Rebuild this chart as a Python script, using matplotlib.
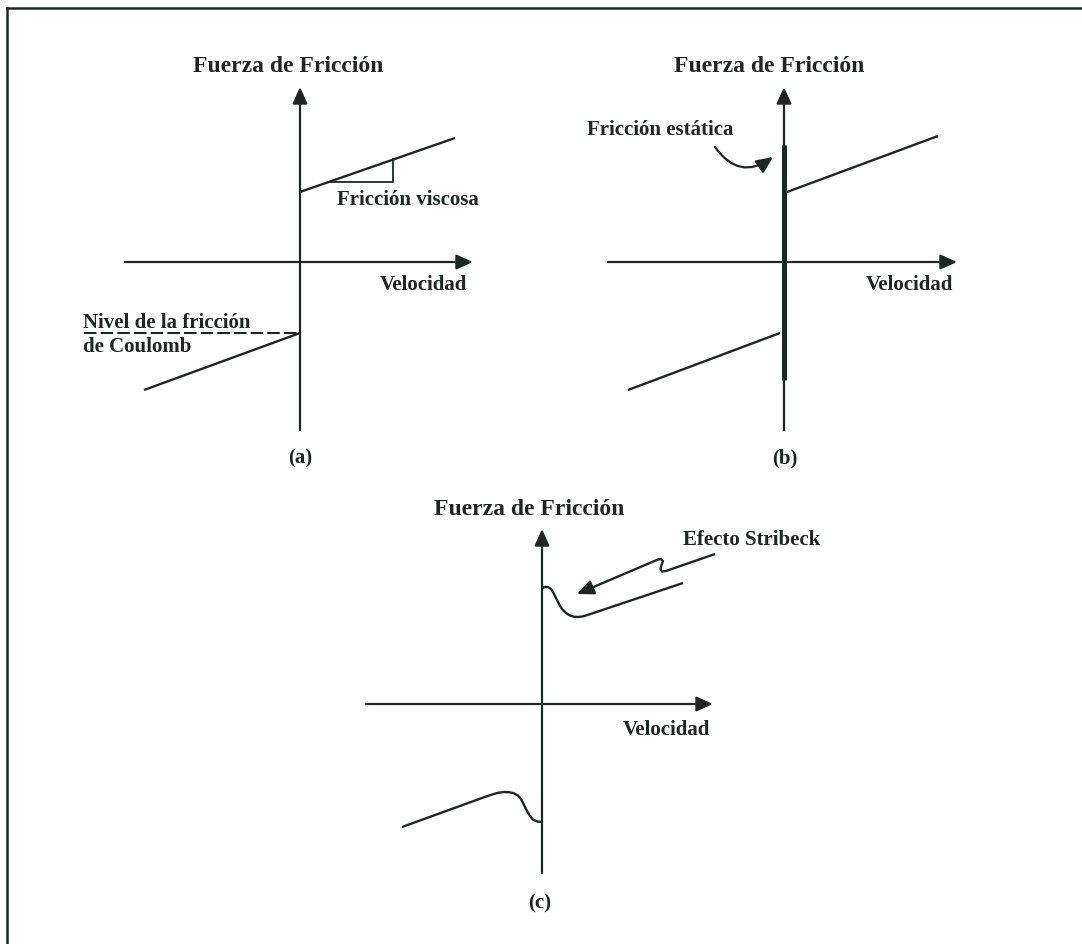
import matplotlib.pyplot as plt

plt.rcParams['font.family'] = ['Liberation Serif', 'DejaVu Serif']
plt.rcParams['font.weight'] = 'bold'

W, H = 1082, 944
INK = '#1d2622'

# labels
force_label = "Fuerza de Fricción"
speed_label = "Velocidad"
panel_tags = ["(a)", "(b)", "(c)"]
viscous_label = "Fricción viscosa"
coulomb_label = ["Nivel de la fricción", "de Coulomb"]
static_label = "Fricción estática"
stribeck_label = "Efecto Stribeck"

# (a) Coulomb + viscous friction
a_pos_v = [0, 155]
a_pos_f = [70, 124]
a_neg_v = [-156, 0]
a_neg_f = [-128, -71]
a_slope_v = [28, 93, 93]
a_slope_f = [80, 80, 103]
a_coulomb_level = -71

# (b) static + Coulomb + viscous friction
b_pos_v = [3, 154]
b_pos_f = [70, 126]
b_neg_v = [-156, -4]
b_neg_f = [-128, -71]
b_static_f = [-118, 117]

# (c) Stribeck effect
c_pos_v = [0, 3, 6, 9, 11, 13, 15, 17, 20, 24, 28, 32, 36, 41, 47, 141]
c_pos_f = [116, 117, 117, 115, 112, 108, 104, 100, 95, 91, 88.5, 87.3, 87, 87.6, 89.5, 121]
c_neg_v = [-140, -60, -50, -44, -38, -33, -28, -24, -21, -18, -15, -12, -9, -5, 0]
c_neg_f = [-123, -94, -90.5, -88.8, -88, -88.2, -89.3, -91.5, -95, -101, -107, -112, -115.5, -117.5, -118]
c_hint_v = [173, 124, 120, 118.5, 119.5, 121, 119, 116]
c_hint_f = [150, 133, 132.5, 135, 139, 143, 145, 144.5]
c_hint_tip = (35, 110)

fig = plt.figure(figsize=(W / 100, H / 100), dpi=100)

base = fig.add_axes([0, 0, 1, 1])
base.set_xlim(0, W)
base.set_ylim(H, 0)
base.axis('off')
# page frame (only left and top edges are on the sheet)
base.plot([7, 7], [H, 8], color=INK, lw=1.8)
base.plot([7, W], [8, 8], color=INK, lw=1.8)


def panel(ox, oy):
    ax = fig.add_axes([0, 0, 1, 1])
    ax.set_xlim(-ox, W - ox)
    ax.set_ylim(oy - H, oy)
    ax.axis('off')
    ax.patch.set_visible(False)
    return ax


def arrow(ax, start, end, lw=1.6, **kw):
    ax.annotate('', xy=end, xytext=start,
                arrowprops=dict(arrowstyle='-|>,head_length=1.0,head_width=0.45',
                                mutation_scale=10, lw=lw, color=INK,
                                shrinkA=0, shrinkB=0, **kw))


def draw_axes(ax, xlo, xhi, ylo, yhi):
    arrow(ax, (xlo, 0), (xhi, 0))
    arrow(ax, (0, ylo), (0, yhi))


def text(ax, x, y, s, size=15, ha='center', va='baseline'):
    ax.text(x, y, s, fontsize=size, ha=ha, va=va, color=INK, fontweight='bold')


line_kw = dict(color=INK, lw=1.7, solid_capstyle='butt', solid_joinstyle='round')

# ---- (a)
ax = panel(300, 262)
draw_axes(ax, -175, 173, -168, 175)
ax.plot(a_pos_v, a_pos_f, **line_kw)
ax.plot(a_neg_v, a_neg_f, **line_kw)
ax.plot(a_slope_v, a_slope_f, color=INK, lw=1.3)
ax.plot([-216, 0], [a_coulomb_level] * 2, color=INK, lw=1.5, ls=(0, (6, 2)))
text(ax, -12, 190, force_label, size=17)
text(ax, 123, -28, speed_label)
text(ax, 37, 57, viscous_label, ha='left')
text(ax, -217, -66, coulomb_label[0], ha='left')
text(ax, -217, -90, coulomb_label[1], ha='left')
text(ax, 0, -196, panel_tags[0], va='center')

# ---- (b)
ax = panel(784, 262)
draw_axes(ax, -176, 173, -168, 175)
ax.plot([0, 0], b_static_f, color=INK, lw=3.6, solid_capstyle='butt')
ax.plot(b_pos_v, b_pos_f, **line_kw)
ax.plot(b_neg_v, b_neg_f, **line_kw)
text(ax, -15, 190, force_label, size=17)
text(ax, 125, -28, speed_label)
text(ax, -197, 127, static_label, ha='left')
arrow(ax, (-69, 115), (-11, 105), connectionstyle='arc3,rad=0.5')
text(ax, 1, -196, panel_tags[1], va='center')

# ---- (c)
ax = panel(542, 704)
draw_axes(ax, -176, 171, -169, 175)
ax.plot(c_pos_v, c_pos_f, **line_kw)
ax.plot(c_neg_v, c_neg_f, **line_kw)
ax.plot(c_hint_v, c_hint_f, **line_kw)
arrow(ax, (c_hint_v[-1], c_hint_f[-1]), c_hint_tip, lw=1.7)
text(ax, -13, 189, force_label, size=17)
text(ax, 124, -31, speed_label)
text(ax, 141, 159, stribeck_label, ha='left')
text(ax, -2, -199, panel_tags[2], va='center')

fig.savefig('out.png', dpi=100)
